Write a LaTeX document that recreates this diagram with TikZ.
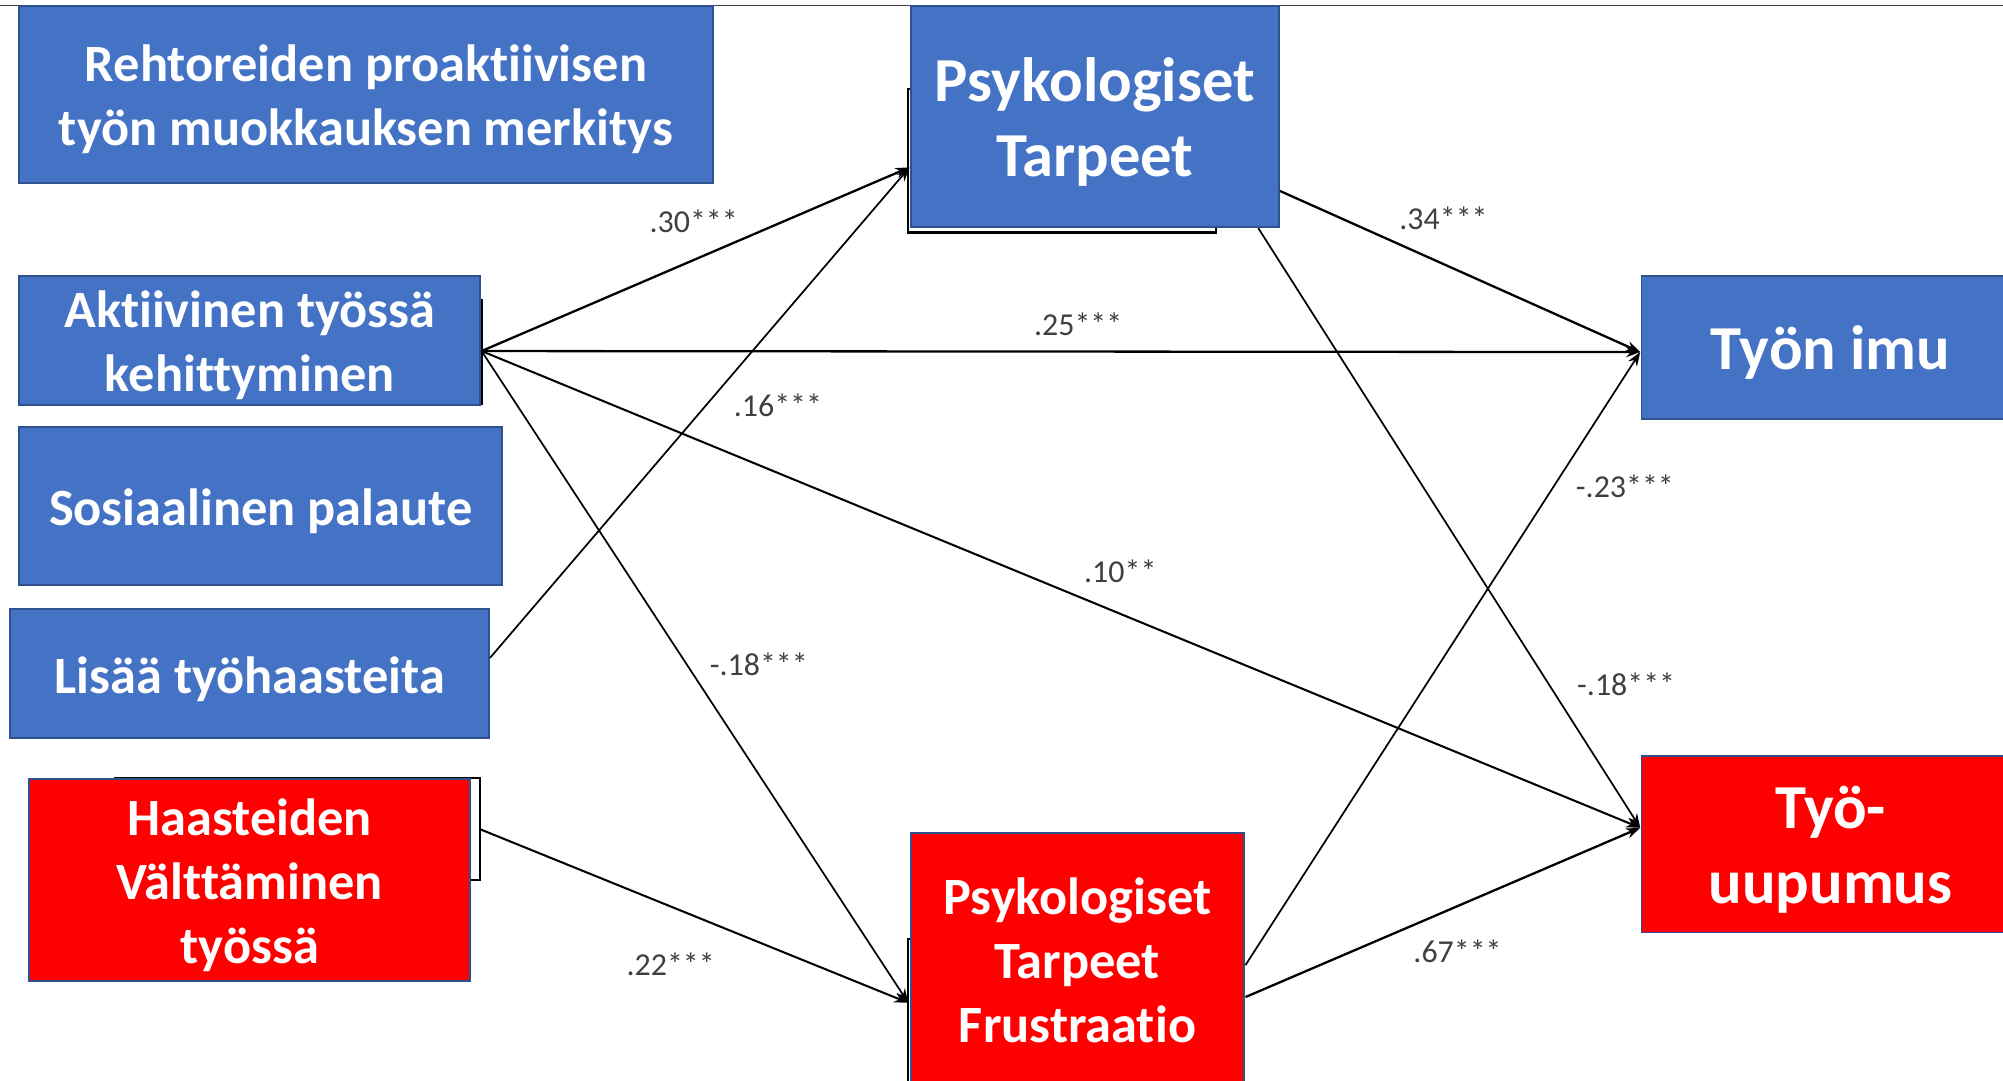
\documentclass[tikz,border=0pt]{standalone}
\usepackage{fontspec}
\setmainfont{Carlito}[Ligatures=NoCommon]
\usetikzlibrary{arrows.meta,calc}
\definecolor{boxblue}{HTML}{4472C4}
\definecolor{edgeblue}{HTML}{2F528F}
\definecolor{boxred}{HTML}{FF0000}
\definecolor{labelgray}{HTML}{404040}
\definecolor{rulegray}{HTML}{404040}

\begin{document}
\begin{tikzpicture}[x=1pt,y=-1pt,
  box/.style={draw=edgeblue, line width=1.5pt, inner sep=0pt, outer sep=0pt},
  bluebox/.style={box, fill=boxblue},
  redbox/.style={box, fill=boxred},
  boxtext/.style={text=white, align=center, inner sep=0pt, yshift=-4pt,
    font=\bfseries\fontsize{41}{50}\selectfont},
  bigtext/.style={boxtext, font=\bfseries\fontsize{49}{59}\selectfont},
  backbox/.style={draw=black, line width=1.6pt, fill=white, inner sep=0pt, outer sep=0pt},
  link/.style={draw=black, line width=1.8pt, -{Stealth[length=11pt,width=8pt]}},
  thinlink/.style={link, line width=1.35pt},
  coef/.style={text=labelgray, font=\fontsize{25}{30}\selectfont, inner sep=0pt}
]
\useasboundingbox (0,0) rectangle (1568,846);
\clip (0,0) rectangle (1568,846);
\fill[white] (0,0) rectangle (1568,846);

% thin rule along the top edge
\draw[rulegray, line width=1pt] (0,4.5) -- (1568,4.5);

% outlines of shapes lying underneath the coloured boxes
\node[backbox, minimum width=241pt, minimum height=112pt] (ptback) at (831.5,126) {};
\node[backbox, minimum width=177pt, minimum height=81pt] (aktback) at (288.5,275.5) {};
\node[backbox, minimum width=285.5pt, minimum height=80pt] (haaback) at (232.75,649) {};
\node[backbox, minimum width=190pt, minimum height=130pt] (fruback) at (806,800) {};

% left-hand column
\node[bluebox, minimum width=543pt, minimum height=138pt] (rehtori) at (286.5,74) {};
\node[boxtext] (rehtori-t) at (rehtori.center)
  {Rehtoreiden proaktiivisen\\työn muokkauksen merkitys};
\node[bluebox, minimum width=361pt, minimum height=101pt] (akt) at (195.5,266.5) {};
\node[boxtext] (akt-t) at (akt.center) {Aktiivinen työssä\\kehittyminen};
\node[bluebox, minimum width=378pt, minimum height=124pt] (sos) at (204,396) {};
\node[boxtext] (sos-t) at (sos.center) {Sosiaalinen palaute};
\node[bluebox, minimum width=375pt, minimum height=101pt] (lis) at (195.5,527.5) {};
\node[boxtext] (lis-t) at (lis.center) {Lisää työhaasteita};
\node[redbox, minimum width=345pt, minimum height=158pt] (haa) at (195.5,689) {};
\node[boxtext] (haa-t) at (haa.center) {Haasteiden\\Välttäminen\\työssä};

% mediators
\node[bluebox, minimum width=288pt, minimum height=173pt] (pt) at (857,91.5) {};
\node[bigtext] (pt-t) at (pt.center) {Psykologiset\\Tarpeet};
\node[redbox, minimum width=261pt, minimum height=200pt] (fru) at (843.5,752) {};
\node[boxtext, yshift=4pt] (fru-t) at (fru.center) {Psykologiset\\Tarpeet\\Frustraatio};

% outcomes
\node[bluebox, minimum width=296pt, minimum height=112pt] (imu) at (1433,272) {};
\node[bigtext] (imu-t) at (imu.center) {Työn imu};
\node[redbox, minimum width=296pt, minimum height=138pt] (uup) at (1433,661) {};
\node[bigtext] (uup-t) at (uup.center) {Työ-\\uupumus};

% ports on the box edges
\coordinate (aktout) at ($(akt.east)+(1,8.3)$);
\coordinate (lisout) at ($(lis.east)+(0.6,-12.5)$);
\coordinate (ptin)   at ($(pt.west)+(-1,39.5)$);
\coordinate (ptout)  at ($(pt.east)+(1,58)$);
\coordinate (ptdown) at ($(pt.south)+(128,0.6)$);
\coordinate (fruin)  at ($(fru.west)+(-2,33)$);
\coordinate (fruup)  at ($(fru.east)+(1,3.5)$);
\coordinate (fruout) at ($(fru.east)+(1,28.5)$);
\coordinate (imuin)  at ($(imu.west)+(-1,3.6)$);
\coordinate (uupin)  at ($(uup.west)+(-1,-13)$);

% paths
\draw[link] (aktout) -- (ptin);
\draw[link] (aktout) -- (imuin);
\draw[thinlink] (lisout) -- (ptin);
\draw[link, line width=1.6pt] (aktout) -- (uupin);
\draw[thinlink] (aktout) -- (fruin);
\draw[link, line width=1.6pt] (haaback.east) -- (fruin);
\draw[link] (ptout) -- (imuin);
\draw[thinlink] (ptdown) -- (uupin);
\draw[thinlink] (fruup) -- (imuin);
\draw[link] (fruout) -- (uupin);

% path coefficients
\node[coef] (c30)  at (543,173)  {.30***};
\node[coef] (c25)  at (844,254)  {.25***};
\node[coef] (c16)  at (609,317)  {.16***};
\node[coef] (c10)  at (877,447)  {.10**};
\node[coef] (c18a) at (594,520)  {-.18***};
\node[coef] (c22)  at (525,755)  {.22***};
\node[coef] (c34)  at (1130,171) {.34***};
\node[coef] (c23)  at (1272,381) {-.23***};
\node[coef] (c18b) at (1273,536) {-.18***};
\node[coef] (c67)  at (1141,745) {.67***};
\end{tikzpicture}
\end{document}
